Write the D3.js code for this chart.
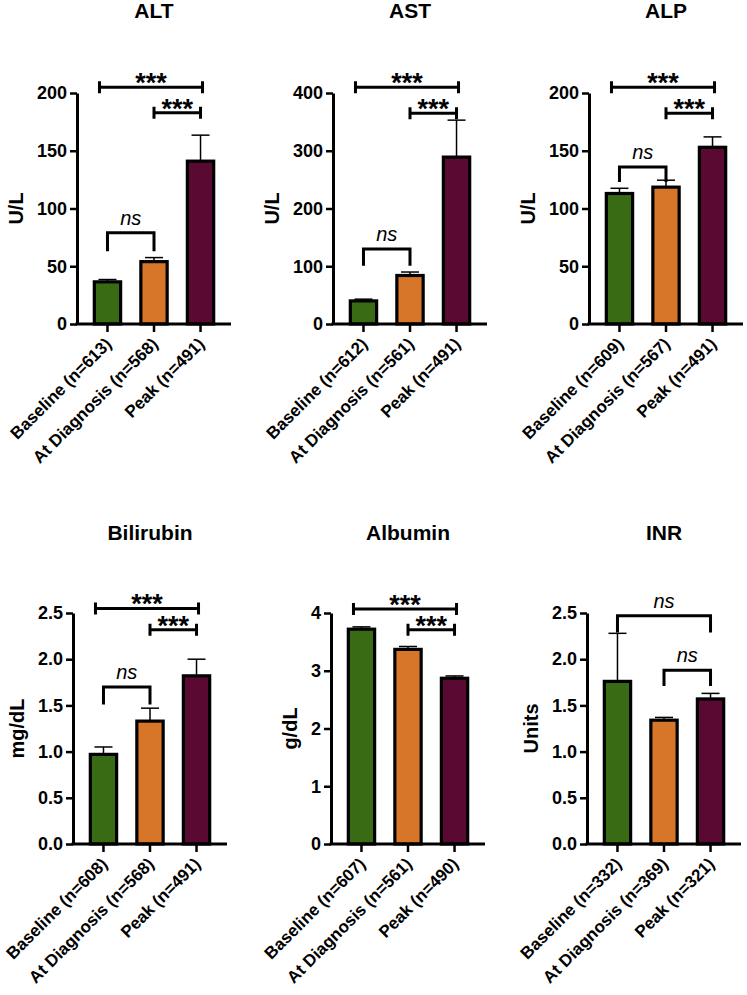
<!DOCTYPE html>
<html>
<head>
<meta charset="utf-8">
<script src="https://cdn.jsdelivr.net/npm/d3@7"></script>
<style>
  html, body { margin: 0; padding: 0; background: #fff; }
  svg { display: block; font-family: "Liberation Sans", Arial, sans-serif; }
</style>
</head>
<body>
<svg id="chart" width="747" height="995"></svg>
<script>
// ---------------- data ----------------
const categories = ["Baseline", "At Diagnosis", "Peak"];
const titles = ["ALT", "AST", "ALP", "Bilirubin", "Albumin", "INR"];
const units = ["U/L", "U/L", "U/L", "mg/dL", "g/dL", "Units"];
const sampleSizes = [
  [613, 568, 491],
  [612, 561, 491],
  [609, 567, 491],
  [608, 568, 491],
  [607, 561, 490],
  [332, 369, 321]
];
const means = [
  [36.5, 54, 141],
  [40, 84, 289],
  [113, 118.5, 153],
  [0.97, 1.33, 1.82],
  [3.72, 3.37, 2.87],
  [1.76, 1.34, 1.57]
];
const upperErrors = [
  [38.5, 57.5, 163.5],
  [43, 90, 353],
  [117.5, 124.5, 162],
  [1.05, 1.47, 2.0],
  [3.76, 3.42, 2.91],
  [2.28, 1.37, 1.63]
];
const yMax = [200, 400, 200, 2.5, 4, 2.5];
const yTicks = [
  [0, 50, 100, 150, 200],
  [0, 100, 200, 300, 400],
  [0, 50, 100, 150, 200],
  [0, 0.5, 1.0, 1.5, 2.0, 2.5],
  [0, 1, 2, 3, 4],
  [0, 0.5, 1.0, 1.5, 2.0, 2.5]
];
const tickFormats = ["d", "d", "d", ".1f", "d", ".1f"];
// significance brackets: from/to category index, bar height (data units), leg end (ns style), label
const brackets = [
  [{ a: 0, b: 2, y: 205, label: "***" }, { a: 1, b: 2, y: 183, label: "***" }, { a: 0, b: 1, y: 79, leg: 63, label: "ns" }],
  [{ a: 0, b: 2, y: 410, label: "***" }, { a: 1, b: 2, y: 365, label: "***" }, { a: 0, b: 1, y: 130, leg: 101, label: "ns" }],
  [{ a: 0, b: 2, y: 205, label: "***" }, { a: 1, b: 2, y: 182.5, label: "***" }, { a: 0, b: 1, y: 136, leg: 123, label: "ns" }],
  [{ a: 0, b: 2, y: 2.55, label: "***" }, { a: 1, b: 2, y: 2.32, label: "***" }, { a: 0, b: 1, y: 1.70, leg: 1.51, label: "ns" }],
  [{ a: 0, b: 2, y: 4.07, label: "***" }, { a: 1, b: 2, y: 3.71, label: "***" }],
  [{ a: 0, b: 2, y: 2.47, leg: 2.29, label: "ns" }, { a: 1, b: 2, y: 1.88, leg: 1.71, label: "ns" }]
];

// ---------------- layout / style ----------------
const colors = ["#386b13", "#d77628", "#5a0a32"];
const panelLeft = [77, 333, 589, 73, 331, 587];
const panelTop = [93, 93, 93, 613, 613, 613];
const panelBottom = [324, 324, 324, 844, 844, 844];
const titleBaseline = [18, 18, 18, 540, 540, 540];
const plotW = 154;

const svg = d3.select("#chart");

titles.forEach((title, p) => {
  const g = svg.append("g");
  const x0 = panelLeft[p], y0 = panelTop[p], y1 = panelBottom[p];

  const x = d3.scaleBand().domain(categories).range([x0, x0 + plotW])
    .paddingInner(0.37).paddingOuter(0.34);
  const y = d3.scaleLinear().domain([0, yMax[p]]).range([y1, y0]);
  const bw = x.bandwidth();

  // title
  g.append("text")
    .attr("x", x0 + plotW / 2).attr("y", titleBaseline[p])
    .attr("text-anchor", "middle")
    .attr("font-size", 21).attr("font-weight", "bold")
    .text(title);

  // error bars (upper only)
  const eg = g.append("g");
  categories.forEach((c, i) => {
    const cx = x(c) + bw / 2;
    eg.append("line")
      .attr("x1", cx).attr("x2", cx)
      .attr("y1", y(means[p][i])).attr("y2", y(upperErrors[p][i]))
      .attr("stroke", "#000").attr("stroke-width", 1.5);
    eg.append("line")
      .attr("x1", cx - 9).attr("x2", cx + 9)
      .attr("y1", y(upperErrors[p][i])).attr("y2", y(upperErrors[p][i]))
      .attr("stroke", "#000").attr("stroke-width", 1.5);
  });

  // bars
  g.append("g").selectAll("rect")
    .data(categories)
    .join("rect")
    .attr("x", c => x(c) + 1.5)
    .attr("width", bw - 3)
    .attr("y", (c, i) => y(means[p][i]))
    .attr("height", (c, i) => y1 - y(means[p][i]))
    .attr("fill", (c, i) => colors[i])
    .attr("stroke", "#000").attr("stroke-width", 3.2);

  // y axis
  const fmt = d3.format(tickFormats[p]);
  const ya = g.append("g")
    .attr("transform", `translate(${x0},0)`)
    .call(d3.axisLeft(y).tickValues(yTicks[p]).tickFormat(fmt).tickSize(7).tickSizeOuter(0).tickPadding(3));
  ya.select(".domain").attr("stroke-width", 3);
  ya.selectAll(".tick line").attr("stroke-width", 2.5);
  ya.selectAll(".tick text")
    .attr("font-size", 18).attr("font-weight", "bold")
    .attr("font-family", "Liberation Sans, Arial, sans-serif").attr("fill", "#000");

  // y axis title
  const bb = ya.node().getBBox();
  g.append("text")
    .attr("transform", `translate(${x0 + bb.x - 14},${(y0 + y1) / 2}) rotate(-90)`)
    .attr("text-anchor", "middle")
    .attr("font-size", 20).attr("font-weight", "bold")
    .text(units[p]);

  // x axis
  const xa = g.append("g")
    .attr("transform", `translate(0,${y1})`)
    .call(d3.axisBottom(x).tickSize(8).tickSizeOuter(0).tickFormat(""));
  xa.select(".domain").attr("stroke-width", 3)
    .attr("d", `M${x0 - 1.5},0H${x0 + plotW}`);
  xa.selectAll(".tick line").attr("stroke-width", 2.5);

  // x labels
  g.append("g").selectAll("text")
    .data(categories)
    .join("text")
    .attr("transform", c => `translate(${x(c) + bw / 2 + 5},${y1 + 21}) rotate(-45)`)
    .attr("text-anchor", "end")
    .attr("font-size", 17).attr("font-weight", "bold")
    .text((c, i) => `${c} (n=${sampleSizes[p][i]})`);

  // brackets
  brackets[p].forEach(br => {
    const xa0 = x(categories[br.a]) + bw / 2 - (br.label === "***" && br.a === 0 ? 8 : 0);
    const xb0 = x(categories[br.b]) + bw / 2 + (br.label === "***" && br.a === 0 ? 2 : 0);
    const yy = y(br.y);
    const bg = g.append("g").attr("stroke", "#000").attr("stroke-width", 3).attr("fill", "none");
    if (br.leg !== undefined) {
      const yl = y(br.leg);
      bg.append("path").attr("d", `M${xa0},${yl}V${yy}H${xb0}V${yl}`);
      g.append("text")
        .attr("x", (xa0 + xb0) / 2).attr("y", yy - 8)
        .attr("text-anchor", "middle")
        .attr("font-size", 20).attr("font-style", "italic")
        .text(br.label);
    } else {
      bg.append("path").attr("d", `M${xa0},${yy}H${xb0}`);
      bg.append("path").attr("d", `M${xa0},${yy - 6}V${yy + 6}M${xb0},${yy - 6}V${yy + 6}`);
      g.append("text")
        .attr("x", (xa0 + xb0) / 2).attr("y", yy + 5)
        .attr("text-anchor", "middle")
        .attr("font-size", 27).attr("font-weight", "bold")
        .text(br.label);
    }
  });
});
</script>
</body>
</html>
